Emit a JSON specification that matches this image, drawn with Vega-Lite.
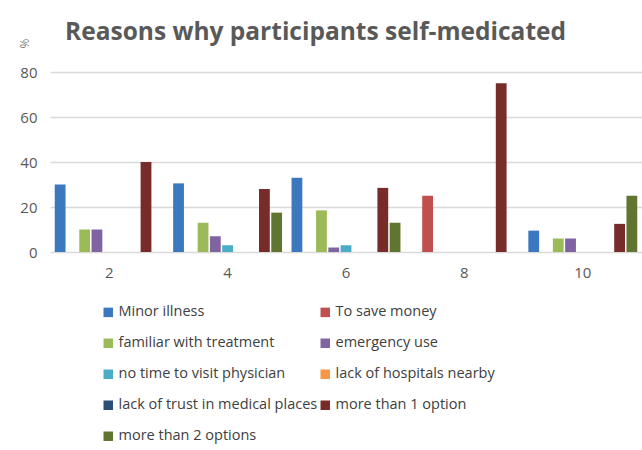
{
  "$schema": "https://vega.github.io/schema/vega-lite/v6.json",
  "autosize": {"type": "none"},
  "padding": {"left": 50, "top": 72, "right": 0, "bottom": 198},
  "width": 592,
  "height": 180,
  "background": "white",
  "title": {
    "text": "Reasons why participants self-medicated",
    "frame": "group",
    "anchor": "start",
    "dx": 15,
    "offset": -26,
    "baseline": "alphabetic",
    "font": "Open Sans",
    "fontSize": 24.5,
    "fontWeight": "bold",
    "color": "#595959"
  },
  "data": {
    "values": [
      {"group": "2", "reason": "Minor illness", "pct": 30},
      {"group": "2", "reason": "To save money", "pct": 0},
      {"group": "2", "reason": "familiar with treatment", "pct": 10},
      {"group": "2", "reason": "emergency use", "pct": 10},
      {"group": "2", "reason": "no time to visit physician", "pct": 0},
      {"group": "2", "reason": "lack of hospitals nearby", "pct": 0},
      {"group": "2", "reason": "lack of trust in medical places", "pct": 0},
      {"group": "2", "reason": "more than 1 option", "pct": 40},
      {"group": "2", "reason": "more than 2 options", "pct": 0},
      {"group": "4", "reason": "Minor illness", "pct": 30.5},
      {"group": "4", "reason": "To save money", "pct": 0},
      {"group": "4", "reason": "familiar with treatment", "pct": 13},
      {"group": "4", "reason": "emergency use", "pct": 7},
      {"group": "4", "reason": "no time to visit physician", "pct": 3},
      {"group": "4", "reason": "lack of hospitals nearby", "pct": 0},
      {"group": "4", "reason": "lack of trust in medical places", "pct": 0},
      {"group": "4", "reason": "more than 1 option", "pct": 28},
      {"group": "4", "reason": "more than 2 options", "pct": 17.5},
      {"group": "6", "reason": "Minor illness", "pct": 33},
      {"group": "6", "reason": "To save money", "pct": 0},
      {"group": "6", "reason": "familiar with treatment", "pct": 18.5},
      {"group": "6", "reason": "emergency use", "pct": 2},
      {"group": "6", "reason": "no time to visit physician", "pct": 3},
      {"group": "6", "reason": "lack of hospitals nearby", "pct": 0},
      {"group": "6", "reason": "lack of trust in medical places", "pct": 0},
      {"group": "6", "reason": "more than 1 option", "pct": 28.5},
      {"group": "6", "reason": "more than 2 options", "pct": 13},
      {"group": "8", "reason": "Minor illness", "pct": 0},
      {"group": "8", "reason": "To save money", "pct": 25},
      {"group": "8", "reason": "familiar with treatment", "pct": 0},
      {"group": "8", "reason": "emergency use", "pct": 0},
      {"group": "8", "reason": "no time to visit physician", "pct": 0},
      {"group": "8", "reason": "lack of hospitals nearby", "pct": 0},
      {"group": "8", "reason": "lack of trust in medical places", "pct": 0},
      {"group": "8", "reason": "more than 1 option", "pct": 75},
      {"group": "8", "reason": "more than 2 options", "pct": 0},
      {"group": "10", "reason": "Minor illness", "pct": 9.5},
      {"group": "10", "reason": "To save money", "pct": 0},
      {"group": "10", "reason": "familiar with treatment", "pct": 6},
      {"group": "10", "reason": "emergency use", "pct": 6},
      {"group": "10", "reason": "no time to visit physician", "pct": 0},
      {"group": "10", "reason": "lack of hospitals nearby", "pct": 0},
      {"group": "10", "reason": "lack of trust in medical places", "pct": 0},
      {"group": "10", "reason": "more than 1 option", "pct": 12.5},
      {"group": "10", "reason": "more than 2 options", "pct": 25}
    ]
  },
  "mark": {"type": "bar"},
  "encoding": {
    "x": {
      "field": "group",
      "type": "nominal",
      "sort": ["2", "4", "6", "8", "10"],
      "scale": {"paddingInner": 0.08, "paddingOuter": 0.04},
      "axis": {
        "title": null,
        "labelAngle": 0,
        "domain": false,
        "ticks": false,
        "labelPadding": 13,
        "labelFont": "Open Sans",
        "labelFontSize": 15,
        "labelColor": "#595959"
      }
    },
    "xOffset": {
      "field": "reason",
      "type": "nominal",
      "sort": ["Minor illness", "To save money", "familiar with treatment", "emergency use", "no time to visit physician", "lack of hospitals nearby", "lack of trust in medical places", "more than 1 option", "more than 2 options"],
      "scale": {"paddingInner": 0.12}
    },
    "y": {
      "field": "pct",
      "type": "quantitative",
      "scale": {"domain": [0, 80], "nice": false},
      "axis": {
        "title": "%",
        "titleX": -26,
        "titleY": -29,
        "titleAlign": "center",
        "titleBaseline": "middle",
        "titleFont": "Open Sans",
        "titleFontSize": 12,
        "titleFontWeight": "normal",
        "titleColor": "#7f7f7f",
        "values": [0, 20, 40, 60, 80],
        "domain": false,
        "ticks": false,
        "labelPadding": 13,
        "labelFont": "Open Sans",
        "labelFontSize": 15,
        "labelColor": "#595959",
        "gridColor": "#D9D9D9",
        "gridWidth": 1.5
      }
    },
    "color": {
      "field": "reason",
      "type": "nominal",
      "scale": {
        "domain": ["Minor illness", "To save money", "familiar with treatment", "emergency use", "no time to visit physician", "lack of hospitals nearby", "lack of trust in medical places", "more than 1 option", "more than 2 options"],
        "range": ["#3C78C0", "#C0504D", "#9BBB59", "#8064A2", "#4BACC6", "#F79646", "#2C4D75", "#772C2A", "#5F7530"]
      },
      "legend": {
        "title": null,
        "orient": "none",
        "direction": "horizontal",
        "legendX": 51,
        "legendY": 233,
        "columns": 2,
        "columnPadding": -9,
        "rowPadding": 16,
        "symbolType": "square",
        "symbolSize": 90,
        "symbolStrokeWidth": 0,
        "labelOffset": 3,
        "labelFont": "Open Sans",
        "labelFontSize": 14.5,
        "labelColor": "#404040",
        "labelLimit": 300
      }
    }
  },
  "config": {
    "view": {"stroke": null}
  }
}
